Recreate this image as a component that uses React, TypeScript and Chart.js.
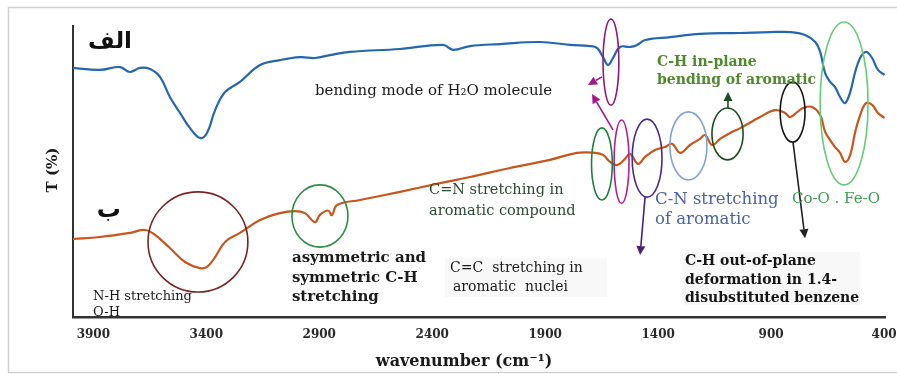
import React, { useEffect, useRef } from "react";
import { Chart, registerables } from "chart.js";

Chart.register(...registerables);

// ---- axis ----
const X_TICKS = [3900, 3400, 2900, 2400, 1900, 1400, 900, 400];
const X_MIN = 396;
const X_MAX = 3990;
const Y_MIN = 0;
const Y_MAX = 100;

// ---- series (wavenumber cm-1, transmittance a.u.) ----
const SERIES_NAMES = ["الف", "ب"];

const WN_A = [3990, 3871, 3782, 3738, 3693, 3649, 3605, 3561, 3516, 3472, 3428, 3397, 3361, 3317, 3251, 3162, 3074, 2985, 2919, 2852, 2764, 2543, 2352, 2308, 2233, 2100, 1923, 1790, 1701, 1670, 1644, 1622, 1600, 1569, 1524, 1493, 1458, 1347, 1215, 1037, 905, 816, 750, 705, 683, 661, 639, 617, 595, 573, 550, 528, 506, 480, 453, 427, 398];
const T_A = [85.6, 84.9, 85.9, 84.2, 85.6, 85.2, 82.5, 75.6, 70.1, 64.9, 61.5, 63.2, 71.1, 77.3, 80.8, 86.6, 88.3, 89.3, 89.0, 90.0, 91.1, 92.1, 93.5, 91.8, 93.1, 93.8, 94.5, 93.5, 93.1, 92.4, 89.3, 86.6, 89.0, 92.8, 92.8, 93.5, 95.2, 96.2, 97.3, 97.6, 97.9, 97.9, 96.9, 94.5, 91.1, 83.8, 80.8, 79.0, 75.6, 73.5, 77.3, 84.2, 89.0, 91.1, 89.0, 84.9, 83.2];

const WN_B = [3990, 3871, 3738, 3671, 3627, 3561, 3494, 3428, 3397, 3361, 3317, 3251, 3162, 3074, 3007, 2963, 2919, 2897, 2861, 2844, 2821, 2720, 2543, 2365, 2233, 2056, 1879, 1759, 1679, 1644, 1613, 1582, 1551, 1524, 1489, 1458, 1414, 1369, 1338, 1303, 1259, 1215, 1192, 1161, 1126, 1082, 1037, 949, 883, 838, 816, 785, 759, 719, 683, 661, 639, 617, 595, 573, 550, 528, 506, 480, 453, 427, 398];
const T_B = [26.8, 27.5, 28.9, 29.9, 28.2, 23.7, 18.9, 16.8, 17.2, 20.6, 25.8, 28.9, 33.3, 35.7, 36.4, 35.7, 32.6, 35.1, 36.6, 35.0, 38.5, 40.2, 43.0, 46.0, 48.1, 51.2, 54.0, 56.4, 56.4, 55.7, 53.3, 52.2, 54.0, 56.0, 52.6, 55.0, 57.4, 58.4, 59.5, 56.4, 59.1, 61.2, 62.5, 59.1, 61.2, 63.2, 64.9, 68.7, 71.1, 70.1, 68.7, 70.4, 71.8, 72.2, 69.4, 63.6, 60.8, 58.4, 56.4, 53.3, 55.7, 63.6, 69.4, 73.5, 72.9, 70.1, 68.4];

// ---- annotations (in data units: wavenumber, transmittance) ----
type Ell = { wn: number; t: number; rwn: number; rt: number; color: string };
const ELLIPSES: Ell[] = [
  { wn: 3437, t: 25.8, rwn: 221, rt: 17.2, color: "#7b2424" },
  { wn: 2897, t: 34.7, rwn: 124, rt: 10.7, color: "#2e8b46" },
  { wn: 1609, t: 87.6, rwn: 35, rt: 14.8, color: "#8e1a7c" },
  { wn: 1649, t: 52.6, rwn: 46, rt: 12.4, color: "#1f7f3f" },
  { wn: 1562, t: 53.4, rwn: 33, rt: 14.3, color: "#b0209a" },
  { wn: 1449, t: 54.6, rwn: 66, rt: 13.4, color: "#4a2a8c" },
  { wn: 1266, t: 58.8, rwn: 82, rt: 11.7, color: "#7ea3d4" },
  { wn: 1093, t: 62.9, rwn: 69, rt: 8.9, color: "#1e4d1e" },
  { wn: 805, t: 70.4, rwn: 55, rt: 10.3, color: "#151515" },
  { wn: 577, t: 73.4, rwn: 106, rt: 28.0, color: "#66cc77" },
];

type Arrow = { fwn: number; ft: number; twn: number; tt: number; color: string };
const ARROWS: Arrow[] = [
  { fwn: 1649, ft: 82.5, twn: 1711, tt: 79.7, color: "#a0188c" },
  { fwn: 1600, ft: 64.3, twn: 1693, tt: 76.6, color: "#a0188c" },
  { fwn: 1458, ft: 41.2, twn: 1480, tt: 21.3, color: "#4b1f7a" },
  { fwn: 1091, ft: 71.8, twn: 1091, tt: 77.3, color: "#1e4d1e" },
  { fwn: 803, ft: 60.1, twn: 750, tt: 27.1, color: "#222222" },
];

type Box = { wn1: number; t1: number; wn2: number; t2: number };
const BOXES: Box[] = [
  { wn1: 2343, t1: 20.3, wn2: 1626, t2: 6.9 },
  { wn1: 1294, t1: 22.3, wn2: 507, t2: 4.1 },
];

type Label = { text: string; wn: number; t: number; color: string; font: string; align?: CanvasTextAlign };
const SERIF = '"DejaVu Serif"';
const LABELS: Label[] = [
  { text: SERIES_NAMES[0], wn: 3729, t: 94.5, color: "#111", font: 'bold 23px "DejaVu Sans"', align: "right" },
  { text: SERIES_NAMES[1], wn: 3831, t: 36.4, color: "#111", font: 'bold 24px "DejaVu Sans"', align: "center" },
  { text: "bending mode of H₂O molecule", wn: 2919, t: 77.7, color: "#1b1b1b", font: `15px ${SERIF}` },
  { text: "C-H in-plane", wn: 1405, t: 87.6, color: "#4e8a2c", font: `bold 14px ${SERIF}` },
  { text: "bending of aromatic", wn: 1405, t: 81.4, color: "#4e8a2c", font: `bold 14px ${SERIF}` },
  { text: "C=N stretching in", wn: 2414, t: 43.6, color: "#2c4a30", font: `14.5px ${SERIF}` },
  { text: "aromatic compound", wn: 2414, t: 36.4, color: "#2c4a30", font: `14.5px ${SERIF}` },
  { text: "C=C  stretching in", wn: 2321, t: 16.8, color: "#1b1b1b", font: `14px ${SERIF}` },
  { text: "aromatic  nuclei", wn: 2308, t: 10.3, color: "#1b1b1b", font: `14px ${SERIF}` },
  { text: "asymmetric and", wn: 3021, t: 20.3, color: "#1b1b1b", font: `bold 15px ${SERIF}` },
  { text: "symmetric C-H", wn: 3021, t: 13.4, color: "#1b1b1b", font: `bold 15px ${SERIF}` },
  { text: "stretching", wn: 3021, t: 6.9, color: "#1b1b1b", font: `bold 15px ${SERIF}` },
  { text: "N-H stretching", wn: 3901, t: 6.9, color: "#1b1b1b", font: `13px ${SERIF}` },
  { text: "O-H", wn: 3901, t: 1.4, color: "#1b1b1b", font: `13px ${SERIF}` },
  { text: "C-N stretching", wn: 1414, t: 40.2, color: "#4a62a8", font: `16.5px ${SERIF}` },
  { text: "of aromatic", wn: 1414, t: 33.3, color: "#4a62a8", font: `16.5px ${SERIF}` },
  { text: "Co-O . Fe-O", wn: 808, t: 40.5, color: "#3c9e4c", font: `15px ${SERIF}` },
  { text: "C-H out-of-plane", wn: 1281, t: 19.2, color: "#161616", font: `bold 14px ${SERIF}` },
  { text: "deformation in 1.4-", wn: 1281, t: 12.7, color: "#161616", font: `bold 14px ${SERIF}` },
  { text: "disubstituted benzene", wn: 1281, t: 6.5, color: "#161616", font: `bold 14px ${SERIF}` },
];

const X_TITLE = "wavenumber (cm⁻¹)";
const X_TITLE_WN = 2259;
const Y_TITLE = "T (%)";
const Y_TITLE_T = 50.5;

const BLUE = "#2566b0";
const ORANGE = "#c8561b";

const pts = (xs: number[], ys: number[]) => xs.map((x, i) => ({ x, y: ys[i] }));

const annotationPlugin = {
  id: "irAnnotations",
  beforeDraw(chart: any) {
    const ctx: CanvasRenderingContext2D = chart.ctx;
    ctx.save();
    ctx.fillStyle = "#ffffff";
    ctx.fillRect(0, 0, chart.width, chart.height);
    ctx.strokeStyle = "#d0d0d0";
    ctx.lineWidth = 1.5;
    ctx.strokeRect(8.5, 7.5, chart.width + 10, chart.height - 9);
    ctx.restore();
  },
  afterDatasetsDraw(chart: any) {
    const ctx: CanvasRenderingContext2D = chart.ctx;
    const xs = chart.scales.x;
    const ys = chart.scales.y;
    const px = (v: number) => xs.getPixelForValue(v);
    const py = (v: number) => ys.getPixelForValue(v);
    ctx.save();

    // faint boxes behind some labels
    ctx.fillStyle = "#f8f8f8";
    for (const b of BOXES) {
      const x1 = px(b.wn1), x2 = px(b.wn2), y1 = py(b.t1), y2 = py(b.t2);
      ctx.fillRect(Math.min(x1, x2), Math.min(y1, y2), Math.abs(x2 - x1), Math.abs(y2 - y1));
    }

    // ellipses
    ctx.lineWidth = 1.6;
    for (const e of ELLIPSES) {
      const cx = px(e.wn), cy = py(e.t);
      const rx = Math.abs(px(e.wn + e.rwn) - cx);
      const ry = Math.abs(py(e.t + e.rt) - cy);
      ctx.strokeStyle = e.color;
      ctx.beginPath();
      ctx.ellipse(cx, cy, rx, ry, 0, 0, Math.PI * 2);
      ctx.stroke();
    }

    // arrows
    for (const a of ARROWS) {
      const x1 = px(a.fwn), y1 = py(a.ft), x2 = px(a.twn), y2 = py(a.tt);
      const ang = Math.atan2(y2 - y1, x2 - x1);
      const L = 9, W = 4.5;
      const bx = x2 - L * Math.cos(ang), by = y2 - L * Math.sin(ang);
      ctx.strokeStyle = a.color;
      ctx.fillStyle = a.color;
      ctx.lineWidth = 1.6;
      ctx.beginPath();
      ctx.moveTo(x1, y1);
      ctx.lineTo(bx, by);
      ctx.stroke();
      ctx.beginPath();
      ctx.moveTo(x2, y2);
      ctx.lineTo(bx + W * Math.sin(ang), by - W * Math.cos(ang));
      ctx.lineTo(bx - W * Math.sin(ang), by + W * Math.cos(ang));
      ctx.closePath();
      ctx.fill();
    }

    // labels
    ctx.textBaseline = "middle";
    for (const l of LABELS) {
      ctx.font = l.font;
      ctx.fillStyle = l.color;
      ctx.textAlign = l.align || "left";
      ctx.fillText(l.text, px(l.wn), py(l.t));
    }

    // axis titles
    ctx.fillStyle = "#1a1a1a";
    ctx.font = `bold 16px ${SERIF}`;
    ctx.textAlign = "center";
    ctx.fillText(X_TITLE, px(X_TITLE_WN), chart.chartArea.bottom + 45);
    ctx.save();
    ctx.translate(chart.chartArea.left - 20, py(Y_TITLE_T));
    ctx.rotate(-Math.PI / 2);
    ctx.font = `bold 15px ${SERIF}`;
    ctx.fillText(Y_TITLE, 0, 0);
    ctx.restore();

    ctx.restore();
  },
};

export default function App() {
  const ref = useRef<HTMLCanvasElement>(null);
  useEffect(() => {
    const canvas = ref.current;
    if (!canvas) return;
    const chart = new Chart(canvas, {
      type: "line",
      data: {
        datasets: [
          {
            label: SERIES_NAMES[0],
            data: pts(WN_A, T_A),
            borderColor: BLUE,
            borderWidth: 2.2,
            pointRadius: 0,
            tension: 0.4,
            fill: false,
          },
          {
            label: SERIES_NAMES[1],
            data: pts(WN_B, T_B),
            borderColor: ORANGE,
            borderWidth: 2.2,
            pointRadius: 0,
            tension: 0.4,
            fill: false,
          },
        ],
      },
      options: {
        animation: false,
        responsive: false,
        events: [],
        layout: { padding: { top: 26, right: 12, left: 0, bottom: 0 } },
        plugins: { legend: { display: false }, tooltip: { enabled: false } },
        scales: {
          x: {
            type: "linear",
            reverse: true,
            min: X_MIN,
            max: X_MAX,
            afterBuildTicks: (s: any) => {
              s.ticks = X_TICKS.map((v) => ({ value: v }));
            },
            afterFit: (s: any) => {
              s.height = 57;
              s.paddingRight = 0;
              s.paddingLeft = 0;
            },
            grid: { display: false, drawTicks: false },
            border: { display: true, color: "#333333", width: 2.5 },
            ticks: {
              autoSkip: false,
              maxRotation: 0,
              padding: 11,
              color: "#2a2a2a",
              font: { family: "DejaVu Serif", weight: "bold", size: 12 },
              callback: (v: any) => String(v),
            },
          },
          y: {
            min: Y_MIN,
            max: Y_MAX,
            afterFit: (s: any) => {
              s.width = 73;
            },
            grid: { display: false, drawTicks: false },
            border: { display: true, color: "#333333", width: 2 },
            ticks: { display: false },
          },
        },
      } as any,
      plugins: [annotationPlugin],
    });
    return () => chart.destroy();
  }, []);
  return (
    <div style={{ position: "fixed", left: 0, top: 0, width: 897, height: 374, background: "#fff" }}>
      <canvas ref={ref} width={897} height={374} style={{ display: "block", width: 897, height: 374 }} />
    </div>
  );
}
